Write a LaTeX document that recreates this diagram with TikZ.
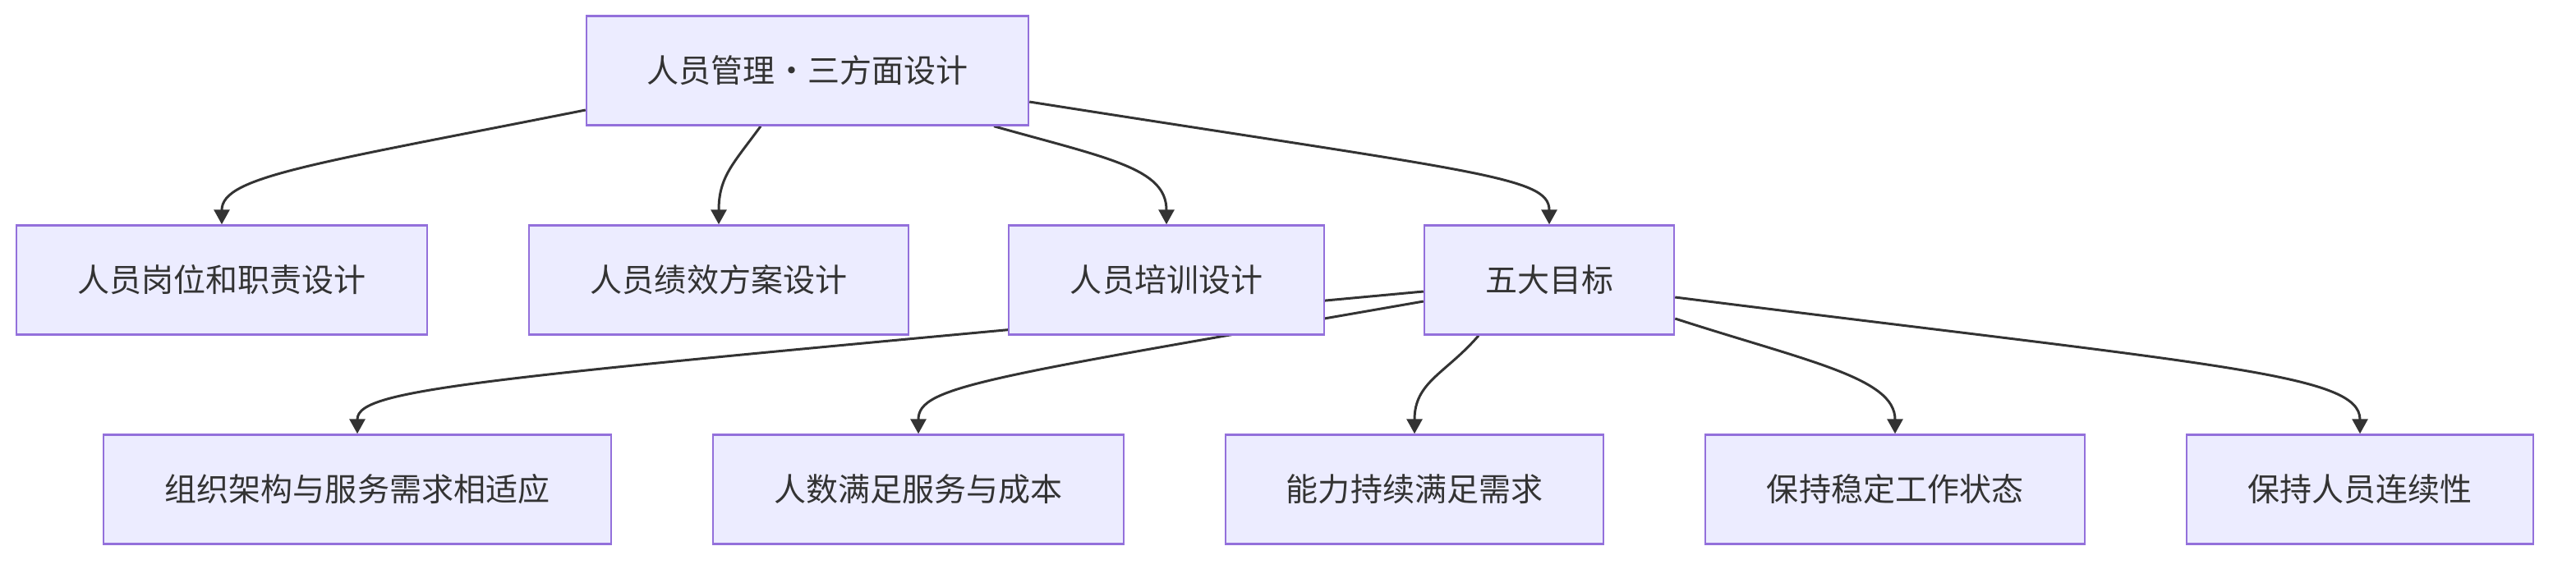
\documentclass[tikz,border=0pt]{standalone}
\usepackage{fontspec}
\setmainfont{Noto Sans CJK SC}
\usetikzlibrary{arrows.meta,backgrounds}

\definecolor{boxfill}{HTML}{ECECFF}
\definecolor{boxline}{HTML}{9370DB}
\definecolor{edgegray}{HTML}{333333}

\tikzset{
  box/.style={draw=boxline, fill=boxfill, line width=0.7pt, inner sep=0pt,
    minimum height=1.33cm, text=edgegray, font=\fontsize{11.1pt}{13pt}\selectfont},
  link/.style={draw=edgegray, line width=0.85pt, -{Triangle[length=1.8mm,width=1.9mm]}}
}

\begin{document}
\begin{tikzpicture}
    \useasboundingbox (0,0) rectangle (31.36,-6.92);

    % Bovenste knoop
    \node[box, minimum width=5.38cm] (top) at (9.83,-0.86) {人员管理·三方面设计};

    % Tweede rij
    \foreach \naam/\x/\w/\tekst in {job/2.70/5.00/人员岗位和职责设计, perf/8.75/4.62/人员绩效方案设计,
        train/14.20/3.84/人员培训设计, goal/18.86/3.04/五大目标} {
        \node[box, minimum width=\w cm] (\naam) at (\x,-3.41) {\tekst};
    }

    % Derde rij: de vijf doelen
    \foreach \naam/\x/\w/\tekst in {org/4.35/6.18/组织架构与服务需求相适应, num/11.18/5.00/人数满足服务与成本,
        abil/17.22/4.60/能力持续满足需求, stab/23.07/4.62/保持稳定工作状态, cont/28.73/4.22/保持人员连续性} {
        \node[box, minimum width=\w cm] (\naam) at (\x,-5.96) {\tekst};
    }

    % Verbindingen achter de knopen
    \begin{pgfonlayer}{background}
        \draw[link] ([yshift=-4.8mm]top.west) .. controls (3.8,-2.0) and (2.7,-2.15) .. (job.north);
        \draw[link] ([xshift=-5.7mm]top.south) .. controls (8.93,-1.99) and (8.75,-2.15) .. (perf.north);
        \draw[link] ([xshift=22.7mm]top.south) .. controls (13.5,-1.93) and (14.2,-2.05) .. (train.north);
        \draw[link] ([yshift=-3.8mm]top.east) .. controls (18.0,-2.1) and (18.86,-2.15) .. (goal.north);
        \draw[link] ([yshift=-1.4mm]goal.west) .. controls (6.0,-4.6) and (4.35,-4.7) .. (org.north);
        \draw[link] ([yshift=-2.6mm]goal.west) .. controls (12.0,-4.6) and (11.18,-4.7) .. (num.north);
        \draw[link] ([xshift=-8.6mm]goal.south) .. controls (17.6,-4.55) and (17.22,-4.65) .. (abil.north);
        \draw[link] ([yshift=-4.7mm]goal.east) .. controls (22.0,-4.4) and (23.07,-4.6) .. (stab.north);
        \draw[link] ([yshift=-2.1mm]goal.east) .. controls (27.0,-4.45) and (28.73,-4.55) .. (cont.north);
    \end{pgfonlayer}
\end{tikzpicture}
\end{document}
